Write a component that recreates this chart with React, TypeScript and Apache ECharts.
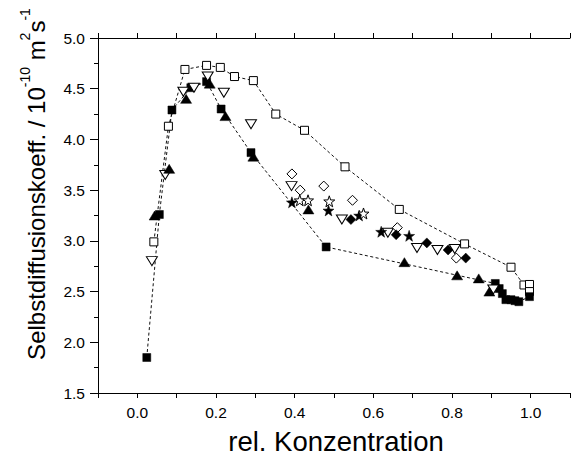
import React, { useEffect, useRef } from "react";
import * as echarts from "echarts";

// Open squares (dashed guide line)
const openSqX = [0.042, 0.079, 0.121, 0.176, 0.211, 0.247, 0.295, 0.352, 0.425, 0.528, 0.666, 0.832, 0.95, 0.983, 0.997, 0.997];
const openSqY = [2.99, 4.13, 4.69, 4.73, 4.71, 4.62, 4.58, 4.25, 4.09, 3.73, 3.31, 2.97, 2.74, 2.565, 2.57, 2.5];
// Filled squares (dashed guide line)
const fillSqX = [0.024, 0.056, 0.088, 0.136, 0.176, 0.213, 0.289, 0.48, 0.91, 0.92, 0.928, 0.937, 0.95, 0.96, 0.97, 0.997];
const fillSqY = [1.85, 3.26, 4.29, 4.51, 4.57, 4.3, 3.87, 2.94, 2.58, 2.53, 2.48, 2.42, 2.42, 2.41, 2.4, 2.45];
// Filled triangles
const fillTriX = [0.044, 0.081, 0.124, 0.184, 0.224, 0.295, 0.435, 0.679, 0.813, 0.868, 0.895];
const fillTriY = [3.25, 3.71, 4.4, 4.55, 4.23, 3.83, 3.31, 2.79, 2.66, 2.63, 2.5];
// Open down triangles
const openTriX = [0.037, 0.071, 0.117, 0.144, 0.179, 0.22, 0.289, 0.392, 0.52, 0.637, 0.711, 0.763, 0.807, 0.905];
const openTriY = [2.8, 3.65, 4.47, 4.51, 4.62, 4.46, 4.15, 3.54, 3.21, 3.08, 2.93, 2.91, 2.92, 2.52];
// Open diamonds
const openDiaX = [0.393, 0.414, 0.474, 0.547, 0.661, 0.811];
const openDiaY = [3.66, 3.5, 3.54, 3.4, 3.13, 2.83];
// Filled diamonds
const fillDiaX = [0.543, 0.658, 0.736, 0.79, 0.835];
const fillDiaY = [3.21, 3.06, 2.98, 2.91, 2.83];
// Filled stars
const fillStarX = [0.393, 0.486, 0.564, 0.62, 0.691];
const fillStarY = [3.38, 3.3, 3.25, 3.09, 3.05];
// Open stars
const openStarX = [0.413, 0.434, 0.488, 0.575];
const openStarY = [3.4, 3.4, 3.39, 3.27];

const xTickLabels = ["0.0", "0.2", "0.4", "0.6", "0.8", "1.0"];

const FONT = "Liberation Sans, Arial, sans-serif";
const STAR = "path://M0,-10L2.35,-3.24L9.51,-3.09L3.8,1.24L5.88,8.09L0,4L-5.88,8.09L-3.8,1.24L-9.51,-3.09L-2.35,-3.24Z";

const zip = (xs: number[], ys: number[]) => xs.map((x, i) => [x, ys[i]]);

const openStyle = { color: "#ffffff", borderColor: "#000000", borderWidth: 1, opacity: 1 };
const fillStyle = { color: "#000000", borderColor: "#000000", borderWidth: 0.5, opacity: 1 };
const dash = { color: "#111111", width: 1, type: [3, 2.5] as any };

export default function App() {
  const ref = useRef<HTMLDivElement>(null);
  useEffect(() => {
    if (!ref.current) return;
    const chart = echarts.init(ref.current, null, { renderer: "svg" });
    const xLabel = (v: number) => {
      const k = Math.round(v * 10);
      if (k < 0 || k > 10 || k % 2 !== 0) return "";
      return xTickLabels[k / 2];
    };
    const xBase = {
      type: "value",
      min: -0.1,
      max: 1.1,
      interval: 0.1,
      splitLine: { show: false },
      axisLine: { show: true, onZero: false, lineStyle: { color: "#000", width: 1 } },
      axisTick: { show: true, inside: false, length: 5, lineStyle: { color: "#000", width: 1 } },
    };
    chart.setOption({
      animation: false,
      backgroundColor: "#ffffff",
      grid: { left: 98, right: -2, top: 38, bottom: 70, containLabel: false },
      xAxis: [
        {
          ...xBase,
          position: "bottom",
          axisLabel: {
            show: true,
            formatter: xLabel,
            color: "#000",
            fontFamily: FONT,
            fontSize: 15.5,
            margin: 11,
            showMinLabel: true,
            showMaxLabel: true,
          },
        },
        {
          ...xBase,
          position: "top",
          axisLabel: { show: false },
        },
      ],
      yAxis: {
        type: "value",
        min: 1.5,
        max: 5.0,
        interval: 0.5,
        splitLine: { show: false },
        axisLine: { show: true, onZero: false, lineStyle: { color: "#000", width: 1 } },
        axisTick: { show: true, inside: false, length: 8, lineStyle: { color: "#000", width: 1 } },
        minorTick: { show: true, splitNumber: 2, length: 4, lineStyle: { color: "#000", width: 1 } },
        axisLabel: {
          formatter: (v: number) => v.toFixed(1),
          color: "#000",
          fontFamily: FONT,
          fontSize: 15.5,
          margin: 13,
        },
      },
      graphic: [
        {
          type: "text",
          x: 336,
          y: 441,
          style: {
            text: "rel. Konzentration",
            fontFamily: FONT,
            fontSize: 27.5,
            fill: "#000",
            align: "center",
            verticalAlign: "middle",
          },
        },
        {
          type: "text",
          x: 33,
          y: 184,
          rotation: Math.PI / 2,
          style: {
            text: "{a|Selbstdiffusionskoeff. / 10}{s|-10}{a| m}{s|2}{a|s}{s|-1}",
            fontFamily: FONT,
            fill: "#000",
            align: "center",
            verticalAlign: "middle",
            rich: {
              a: { fontFamily: FONT, fontSize: 24, lineHeight: 30, verticalAlign: "bottom", fill: "#000" },
              s: { fontFamily: FONT, fontSize: 14, lineHeight: 16, verticalAlign: "top", fill: "#000" },
            },
          },
        },
      ],
      series: [
        {
          type: "line",
          data: zip(openSqX, openSqY),
          symbol: "rect",
          symbolSize: 8,
          showSymbol: true,
          lineStyle: dash,
          itemStyle: openStyle,
          z: 3,
        },
        {
          type: "line",
          data: zip(fillSqX, fillSqY),
          symbol: "rect",
          symbolSize: 8,
          showSymbol: true,
          lineStyle: dash,
          itemStyle: fillStyle,
          z: 3,
        },
        {
          type: "scatter",
          data: zip(openTriX, openTriY),
          symbol: "triangle",
          symbolRotate: 180,
          symbolSize: [11, 9],
          itemStyle: openStyle,
          z: 4,
        },
        {
          type: "scatter",
          data: zip(fillTriX, fillTriY),
          symbol: "triangle",
          symbolSize: [11, 9],
          itemStyle: fillStyle,
          z: 4,
        },
        {
          type: "scatter",
          data: zip(openDiaX, openDiaY),
          symbol: "diamond",
          symbolSize: 10,
          itemStyle: openStyle,
          z: 4,
        },
        {
          type: "scatter",
          data: zip(fillDiaX, fillDiaY),
          symbol: "diamond",
          symbolSize: 10,
          itemStyle: fillStyle,
          z: 4,
        },
        {
          type: "scatter",
          data: zip(fillStarX, fillStarY),
          symbol: STAR,
          symbolSize: 11,
          itemStyle: fillStyle,
          z: 4,
        },
        {
          type: "scatter",
          data: zip(openStarX, openStarY),
          symbol: STAR,
          symbolSize: 11,
          itemStyle: openStyle,
          z: 4,
        },
      ],
    });
    return () => chart.dispose();
  }, []);
  return (
    <div
      ref={ref}
      style={{ position: "fixed", left: 0, top: 0, width: 573, height: 463, background: "#fff" }}
    />
  );
}
